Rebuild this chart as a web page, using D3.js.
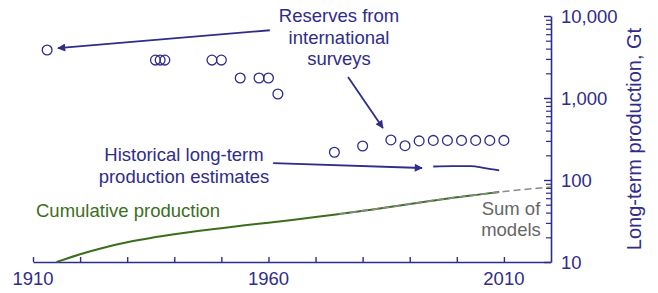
<!DOCTYPE html>
<html>
<head>
<meta charset="utf-8">
<script src="https://cdn.jsdelivr.net/npm/d3@7"></script>
<style>
  body { margin: 0; background: #fff; }
  svg { display: block; font-family: "Liberation Sans", Arial, sans-serif; }
</style>
</head>
<body>
<svg id="svg" width="658" height="293"></svg>
<script>
// 储量调查（空心圆）
const reserveYears  = [1913, 1936, 1937, 1938, 1948, 1950, 1954, 1958, 1960, 1962,
                       1974, 1980, 1986, 1989, 1992, 1995, 1998, 2001, 2004, 2007, 2010];
const reserveValues = [3850, 2900, 2900, 2900, 2900, 2900, 1755, 1755, 1755, 1120,
                       218, 260, 308, 262, 300, 304, 304, 304, 304, 304, 304];

// 历史长期产量估计
const histYears  = [1995, 1999, 2003, 2006, 2009];
const histValues = [146, 148, 148, 140, 131];

// 累计产量（绿线）
const cumYears  = [1915, 1920, 1925, 1930, 1935, 1940, 1945, 1950, 1955, 1960,
                   1965, 1970, 1975, 1980, 1985, 1990, 1995, 2000, 2005, 2009];
const cumValues = [10, 12.45, 14.96, 17.38, 19.6, 21.73, 23.82, 25.88, 28.0, 30.2,
                   32.6, 35.3, 38.5, 42.1, 46.1, 50.9, 56.2, 61.7, 66.8, 71.3];

// 模型合计（灰色虚线）
const modelYears  = [1975, 1985, 1995, 2005, 2010, 2020];
const modelValues = [38.5, 46.1, 56.2, 66.8, 72.3, 82];

const xTicks = d3.range(1910, 2011, 10);
const xLabels = [1910, 1960, 2010];
const yMajor = [10, 100, 1000, 10000];
const yLabels = ["10", "100", "1,000", "10,000"];

const BLUE = "#2f2c8a", GREEN = "#3b6e1c", GRAY = "#8a8a8a";
const FS = 18.5;

const svg = d3.select("#svg");
const g = svg.append("g");

const x = d3.scaleLinear().domain([1910, 2020]).range([33, 551]);
const y = d3.scaleLog().domain([10, 10000]).range([262, 16]);

// 箭头
svg.append("defs").append("marker")
  .attr("id", "arr").attr("viewBox", "0 0 10 10")
  .attr("refX", 9).attr("refY", 5)
  .attr("markerWidth", 11).attr("markerHeight", 8)
  .attr("markerUnits", "userSpaceOnUse")
  .attr("orient", "auto")
  .append("path").attr("d", "M0,0 L10,5 L0,10 Z").attr("fill", BLUE);

// x轴：刻度朝上
const xAxis = g.append("g")
  .attr("transform", `translate(0,${y(10)})`)
  .call(d3.axisTop(x).tickValues(xTicks).tickSize(5).tickSizeOuter(0).tickFormat(""));
xAxis.select(".domain").attr("stroke", BLUE).attr("stroke-width", 1.6);
xAxis.selectAll(".tick line").attr("stroke", BLUE).attr("stroke-width", 1.4);

g.selectAll(".xlab").data(xLabels).join("text")
  .attr("x", d => x(d)).attr("y", 285)
  .attr("text-anchor", "middle")
  .attr("font-size", FS).attr("fill", BLUE)
  .text(d => d);

// y轴（右侧，对数），刻度朝左
const yMinor = [];
for (let e = 1; e < 4; e++) for (let k = 2; k <= 9; k++) yMinor.push(k * Math.pow(10, e));
const yAxisMinor = g.append("g")
  .attr("transform", `translate(${x(2020)},0)`)
  .call(d3.axisLeft(y).tickValues(yMinor).tickSize(5).tickSizeOuter(0).tickFormat(""));
yAxisMinor.select(".domain").attr("stroke", BLUE).attr("stroke-width", 1.6);
yAxisMinor.selectAll(".tick line").attr("stroke", BLUE).attr("stroke-width", 1.2);
const yAxisMajor = g.append("g")
  .attr("transform", `translate(${x(2020)},0)`)
  .call(d3.axisLeft(y).tickValues(yMajor).tickSize(7).tickSizeOuter(0).tickFormat(""));
yAxisMajor.select(".domain").remove();
yAxisMajor.selectAll(".tick line").attr("stroke", BLUE).attr("stroke-width", 1.4);

g.selectAll(".ylab").data(yMajor).join("text")
  .attr("x", x(2020) + 10).attr("y", d => y(d))
  .attr("dy", "0.36em")
  .attr("font-size", FS).attr("fill", BLUE)
  .text((d, i) => yLabels[i]);

g.append("text")
  .attr("transform", `translate(641,${(y(10) + y(10000)) / 2}) rotate(-90)`)
  .attr("text-anchor", "middle")
  .attr("font-size", 20).attr("fill", BLUE)
  .text("Long-term production, Gt");

// 累计产量
const line = d3.line().x(d => x(d[0])).y(d => y(d[1])).curve(d3.curveMonotoneX);
g.append("path")
  .attr("d", line(d3.zip(cumYears, cumValues)))
  .attr("fill", "none").attr("stroke", GREEN).attr("stroke-width", 2);

// 模型合计
g.append("path")
  .attr("d", line(d3.zip(modelYears, modelValues)))
  .attr("fill", "none").attr("stroke", GRAY).attr("stroke-width", 1.6)
  .attr("stroke-dasharray", "7,4");

// 历史估计
g.append("path")
  .attr("d", line(d3.zip(histYears, histValues)))
  .attr("fill", "none").attr("stroke", BLUE).attr("stroke-width", 1.8);

// 储量圆点
g.selectAll(".res").data(d3.zip(reserveYears, reserveValues)).join("circle")
  .attr("cx", d => x(d[0])).attr("cy", d => y(d[1]))
  .attr("r", 4.9)
  .attr("fill", "none").attr("stroke", BLUE).attr("stroke-width", 1.3);

// 注释箭头（数据坐标）
const arrows = [
  { from: [1960.3, 6700], to: [1915.3, 4050] },
  { from: [1976.9, 1800], to: [1984.3, 430] },
  { from: [1961, 161], to: [1992.6, 140] }
];
arrows.forEach(a => {
  g.append("line")
    .attr("x1", x(a.from[0])).attr("y1", y(a.from[1]))
    .attr("x2", x(a.to[0])).attr("y2", y(a.to[1]))
    .attr("stroke", BLUE).attr("stroke-width", 1.8)
    .attr("marker-end", "url(#arr)");
});

// 文字注释
function label(lines, px, py, anchor, color, lh) {
  const t = g.append("text")
    .attr("x", px).attr("y", py)
    .attr("text-anchor", anchor)
    .attr("font-size", FS).attr("fill", color);
  lines.forEach((s, i) => {
    t.append("tspan").attr("x", px).attr("y", py + i * lh).text(s);
  });
}
label(["Reserves from", "international", "surveys"], 339, 22, "middle", BLUE, 21.5);
label(["Historical long-term", "production estimates"], 184, 160.5, "middle", BLUE, 22);
label(["Cumulative production"], 36, 217, "start", GREEN, 0);
label(["Sum of", "models"], 511, 215, "middle", "#666", 21);
</script>
</body>
</html>
